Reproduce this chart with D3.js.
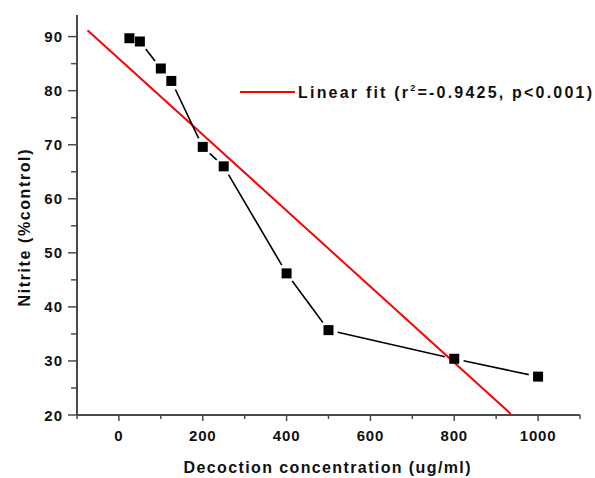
<!DOCTYPE html>
<html><head><meta charset="utf-8">
<script src="https://cdn.jsdelivr.net/npm/d3@7"></script>
<style>body{margin:0;background:#fff}svg{display:block}text{font-family:"Liberation Sans",Arial,sans-serif;font-weight:bold;fill:#111}</style>
</head><body><svg id="c" width="595" height="478"></svg>
<script>
const concentrations = [25, 50, 100, 125, 200, 250, 400, 500, 800, 1000];
const nitrite = [89.7, 89.1, 84.1, 81.8, 69.6, 66.0, 46.2, 35.7, 30.4, 27.1];
const fitX = [-75, 935];
const fitY = [91.2, 20.2];
const xTickLabels = [0, 200, 400, 600, 800, 1000];
const yTickLabels = [20, 30, 40, 50, 60, 70, 80, 90];
const legendLabel = "Linear fit (r";
const legendSup = "2";
const legendRest = "=-0.9425, p<0.001)";
const xTitle = "Decoction concentration (ug/ml)";
const yTitle = "Nitrite (%control)";

const svg = d3.select("#c");
const x = d3.scaleLinear().domain([-100, 1100]).range([77, 580]);
const y = d3.scaleLinear().domain([20, 94]).range([415, 15]);
const axisColor = "#4a4a4a";

// axes
const gx = svg.append("g").attr("transform", "translate(0,415)");
gx.append("line").attr("x1", x(-100)).attr("x2", x(1100)).attr("stroke", axisColor).attr("stroke-width", 2);
const xMinor = d3.range(-100, 1101, 200);
gx.selectAll(".xm").data(xMinor).join("line").attr("x1", d => x(d)).attr("x2", d => x(d))
  .attr("y1", 0).attr("y2", 4).attr("stroke", axisColor).attr("stroke-width", 1.5);
gx.selectAll(".xM").data(xTickLabels).join("line").attr("x1", d => x(d)).attr("x2", d => x(d))
  .attr("y1", 0).attr("y2", 6).attr("stroke", axisColor).attr("stroke-width", 1.5);
gx.selectAll(".xl").data(xTickLabels).join("text").attr("x", d => x(d)).attr("y", 26)
  .attr("text-anchor", "middle").attr("font-size", 15).attr("letter-spacing", 0.8).text(d => d);

const gy = svg.append("g").attr("transform", "translate(77,0)");
gy.append("line").attr("y1", y(20)).attr("y2", y(94)).attr("stroke", axisColor).attr("stroke-width", 2);
const yMinor = d3.range(25, 90, 10);
gy.selectAll(".ym").data(yMinor).join("line").attr("y1", d => y(d)).attr("y2", d => y(d))
  .attr("x1", 0).attr("x2", -6).attr("stroke", axisColor).attr("stroke-width", 1.5);
gy.selectAll(".yM").data(yTickLabels).join("line").attr("y1", d => y(d)).attr("y2", d => y(d))
  .attr("x1", 0).attr("x2", -9).attr("stroke", axisColor).attr("stroke-width", 1.5);
gy.selectAll(".yl").data(yTickLabels).join("text").attr("x", -14).attr("y", d => y(d) + 5.5)
  .attr("text-anchor", "end").attr("font-size", 15).attr("letter-spacing", 1).text(d => d);

// titles
svg.append("text").attr("x", 327).attr("y", 473).attr("text-anchor", "middle")
  .attr("font-size", 16).attr("textLength", 287).attr("lengthAdjust", "spacing").text(xTitle);
svg.append("text").attr("transform", "translate(30,228) rotate(-90)").attr("text-anchor", "middle")
  .attr("font-size", 16).attr("textLength", 157).attr("lengthAdjust", "spacing").text(yTitle);

// fit line
svg.append("line").attr("x1", x(fitX[0])).attr("y1", y(fitY[0])).attr("x2", x(fitX[1])).attr("y2", y(fitY[1]))
  .attr("stroke", "#ff0000").attr("stroke-width", 2);

// data line with gaps
const pts = concentrations.map((c, i) => [x(c), y(nitrite[i])]);
const gap = 9.5;
for (let i = 0; i < pts.length - 1; i++) {
  const [x1, y1] = pts[i], [x2, y2] = pts[i + 1];
  const L = Math.hypot(x2 - x1, y2 - y1);
  if (L <= 2 * gap + 1) continue;
  const ux = (x2 - x1) / L, uy = (y2 - y1) / L;
  svg.append("line").attr("x1", x1 + ux * gap).attr("y1", y1 + uy * gap)
    .attr("x2", x2 - ux * gap).attr("y2", y2 - uy * gap)
    .attr("stroke", "#000").attr("stroke-width", 1.6);
}
svg.selectAll(".pt").data(concentrations).join("rect")
  .attr("x", (d, i) => x(d) - 5).attr("y", (d, i) => y(nitrite[i]) - 5)
  .attr("width", 10).attr("height", 10).attr("fill", "#000");

// legend
svg.append("line").attr("x1", 240).attr("x2", 295).attr("y1", 92).attr("y2", 92)
  .attr("stroke", "#ff0000").attr("stroke-width", 2);
const lt = svg.append("text").attr("x", 298).attr("y", 97.5).attr("font-size", 16)
  .attr("textLength", 294).attr("lengthAdjust", "spacing");
lt.append("tspan").text(legendLabel);
lt.append("tspan").attr("font-size", 9).attr("dy", -7).text(legendSup);
lt.append("tspan").attr("dy", 7).text(legendRest);
</script></body></html>
